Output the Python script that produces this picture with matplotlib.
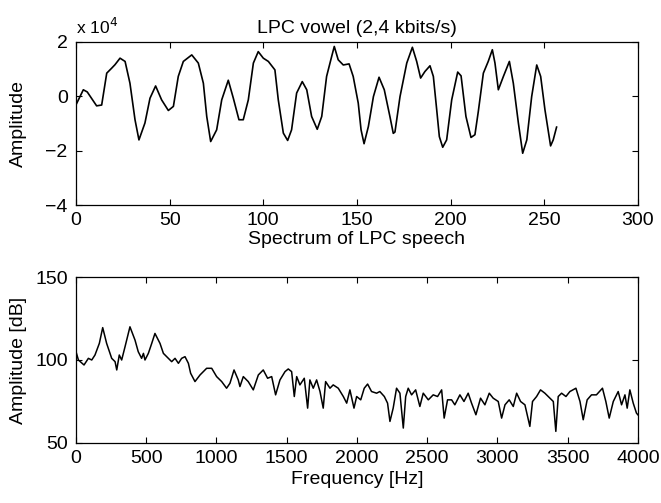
import matplotlib
matplotlib.use("Agg")
import matplotlib.pyplot as plt

plt.rcParams['font.family'] = ['Liberation Sans', 'DejaVu Sans']

# ---- Top: LPC vowel waveform (values in units of 1e4) ----
wave_n = [0, 3.9, 6, 11, 13.7, 16.4, 19, 20.8, 23.5, 26.2, 28.8, 31.5, 33.6, 36.8,
          39.5, 42.5, 45.7, 49.3, 52, 54.6, 57.3, 61.8, 65.3, 68, 69.8, 71.9, 75.1,
          77.8, 81.3, 84, 87, 89.3, 92, 94.7, 97.3, 100, 102.7, 106.2, 108, 110.7,
          113, 115.1, 117.8, 120.8, 123.2, 125.8, 128.8, 131.2, 133.8, 136.5, 137.9,
          140, 142.7, 145.8, 148, 150.7, 152.2, 153.8, 156.1, 158.8, 161.8, 164.6,
          167.6, 169.4, 170.3, 173, 176.6, 179.6, 181.9, 184, 186.3, 189, 190.8,
          192.6, 194, 195.8, 197.9, 200.6, 203.8, 205.6, 208.2, 210.9, 213, 214.8,
          217.5, 220.1, 222.3, 223.7, 225.5, 228.2, 231.4, 233.5, 236.2, 238.5,
          240.7, 243.3, 246, 248.1, 250.4, 253.4, 254.8, 256.6]
wave_v = [-0.32, 0.23, 0.15, -0.36, -0.33, 0.84, 1.02, 1.15, 1.39, 1.27, 0.47, -0.87,
          -1.61, -0.99, -0.08, 0.37, -0.14, -0.53, -0.38, 0.72, 1.27, 1.51, 1.21,
          0.47, -0.75, -1.67, -1.24, -0.14, 0.58, -0.08, -0.87, -0.87, -0.14, 1.21,
          1.63, 1.39, 1.27, 0.96, -0.14, -1.36, -1.63, -1.24, 0.11, 0.53, 0.23,
          -0.75, -1.22, -0.75, 0.72, 1.45, 1.82, 1.33, 1.14, 1.18, 0.72, -0.26,
          -1.24, -1.75, -1.12, -0.02, 0.69, 0.23, -0.75, -1.37, -1.32, -0.02, 1.21,
          1.79, 1.27, 0.66, 0.90, 1.11, 0.72, -0.51, -1.49, -1.88, -1.61, -0.14,
          0.88, 0.74, -0.75, -1.52, -1.42, -0.57, 0.84, 1.27, 1.70, 1.21, 0.23,
          0.72, 1.27, 0.47, -0.99, -2.10, -1.61, -0.02, 1.14, 0.72, -0.51, -1.83,
          -1.61, -1.14]

# ---- Bottom: spectrum ----
spec_f = [0, 17, 57, 88, 112, 135, 166, 190, 218, 254, 278, 290, 308, 325, 349, 384,
          420, 443, 467, 480, 491, 515, 539, 562, 598, 622, 657, 681, 705, 729, 752,
          776, 800, 816, 847, 883, 930, 966, 1001, 1037, 1072, 1096, 1125, 1155,
          1167, 1191, 1226, 1262, 1274, 1298, 1333, 1364, 1393, 1421, 1452, 1488,
          1511, 1535, 1554, 1571, 1594, 1625, 1649, 1665, 1689, 1713, 1737, 1760,
          1777, 1808, 1831, 1867, 1903, 1927, 1950, 1979, 1998, 2027, 2052, 2076,
          2104, 2140, 2163, 2195, 2218, 2235, 2258, 2282, 2306, 2330, 2347, 2365,
          2389, 2418, 2448, 2472, 2508, 2543, 2574, 2603, 2621, 2645, 2674, 2697,
          2733, 2762, 2792, 2816, 2847, 2880, 2911, 2942, 2970, 3006, 3030, 3054,
          3084, 3113, 3137, 3165, 3196, 3231, 3250, 3279, 3307, 3338, 3374, 3398,
          3416, 3433, 3457, 3488, 3516, 3559, 3588, 3611, 3639, 3670, 3705, 3748,
          3772, 3796, 3825, 3860, 3884, 3908, 3924, 3943, 3967, 3990, 4000]
spec_db = [105, 100, 97, 101, 100, 103, 110, 119.5, 110, 101, 99, 94, 103, 100, 108,
           120, 112, 105, 101, 104, 100, 104, 110, 116, 110, 104, 101, 99, 101, 98,
           101, 102, 98, 92, 87, 91, 95, 95, 90, 87, 83, 86, 94, 88, 84, 90, 87, 82,
           85, 91, 94, 89, 90, 79, 88, 93, 94.6, 93, 78, 90, 85, 89, 71, 88, 83, 88,
           81, 71, 87, 83, 85, 83, 78, 74, 82, 71, 78, 76, 83, 85.5, 81, 80, 81, 78,
           74, 63, 71, 83, 80, 59, 78, 83, 79, 82, 72, 80, 76, 79, 78, 82, 65, 76,
           76, 73, 79, 75, 80, 74, 67, 77, 73, 80, 77, 75, 65, 73, 76, 72, 80, 75,
           73, 60, 75, 78, 82, 80, 77, 75, 57, 78, 80, 78, 81, 83, 75, 64, 76, 79,
           79, 83, 75, 65, 75, 81, 73, 79, 71, 82, 74, 68, 67]

top_xticks = [0, 50, 100, 150, 200, 250, 300]
top_yticks = [-4, -2, 0, 2]
bot_xticks = [0, 500, 1000, 1500, 2000, 2500, 3000, 3500, 4000]
bot_yticks = [50, 100, 150]

fig = plt.figure(figsize=(6.61, 5.03), dpi=100)
ax1 = fig.add_axes([0.115, 0.5924, 0.850, 0.325])
ax2 = fig.add_axes([0.115, 0.1193, 0.850, 0.330])

fs = 14
for ax in (ax1, ax2):
    ax.tick_params(direction='in', top=True, right=True, labelsize=fs,
                   length=4, width=0.8)
    ax.tick_params(axis='x', pad=5)
    ax.tick_params(axis='y', pad=6)
    for s in ax.spines.values():
        s.set_linewidth(0.9)

ax1.plot(wave_n, wave_v, color='black', linewidth=1.2)
ax1.set_xlim(0, 300)
ax1.set_ylim(-4, 2)
ax1.set_xticks(top_xticks)
ax1.set_yticks(top_yticks)
ax1.set_ylabel('Amplitude', fontsize=fs)
ax1.yaxis.set_label_coords(-0.088, 0.5)
ax1.set_title('LPC vowel (2,4 kbits/s)', fontsize=fs, pad=6)
ax1.text(0.0, 1.025, r'x 10$^{4}$', transform=ax1.transAxes, fontsize=12.5,
         ha='left', va='bottom')

ax2.plot(spec_f, spec_db, color='black', linewidth=1.1)
ax2.set_xlim(0, 4000)
ax2.set_ylim(50, 150)
ax2.set_xticks(bot_xticks)
ax2.set_yticks(bot_yticks)
ax2.set_ylabel('Amplitude [dB]', fontsize=fs)
ax2.yaxis.set_label_coords(-0.088, 0.5)
ax2.set_xlabel('Frequency [Hz]', fontsize=fs, labelpad=3)
ax2.set_title('Spectrum of LPC speech', fontsize=fs, pad=24)

fig.savefig('out.png', dpi=100)
